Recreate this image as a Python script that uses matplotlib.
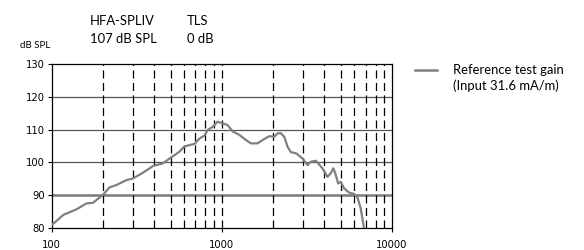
import numpy as np
import matplotlib
matplotlib.use("Agg")
import matplotlib.pyplot as plt

plt.rcParams['lines.scale_dashes'] = False

# Data: reference test gain curve (frequency Hz, dB SPL)
freq = [100, 107, 117, 140, 160, 175, 200, 219, 240, 275, 300, 345, 394, 450,
        493, 530, 564, 600, 646, 690, 740, 790, 827, 886, 944, 1010, 1081,
        1159, 1267, 1386, 1484, 1619, 1735, 1900, 2033, 2134, 2225, 2326,
        2433, 2547, 2725, 2978, 3186, 3336, 3568, 3901, 4173, 4368, 4524,
        4674, 4822, 5000, 5228, 5592, 5981, 6255, 6546, 6845]
gain = [80.9, 82.2, 84.0, 85.7, 87.5, 87.7, 90.1, 92.4, 93.1, 94.6, 95.1, 96.9,
        98.9, 99.7, 101.2, 102.3, 103.3, 104.8, 105.3, 105.6, 107.3, 108.2,
        109.9, 110.9, 112.4, 111.9, 111.4, 109.4, 108.4, 106.8, 105.8, 105.8,
        106.8, 108.0, 107.8, 108.9, 108.9, 107.8, 104.8, 103.1, 102.8, 101.2,
        99.2, 100.2, 100.5, 98.2, 95.6, 96.7, 98.2, 96.2, 93.6, 94.1, 92.1,
        90.8, 90.4, 89.4, 86.0, 80.0]

y_ticks = [80, 90, 100, 110, 120, 130]
x_ticks = [100, 1000, 10000]
x_ticklabels = ["100", "1000", "10000"]
dashed_freqs = [200, 300, 400, 500, 600, 700, 800, 900,
                1000, 2000, 3000, 4000, 5000, 6000, 7000, 8000, 9000]

W, H = 584, 250
fig = plt.figure(figsize=(W / 100, H / 100), dpi=100)
ax = fig.add_axes([51.7 / W, 1 - 228 / H, (392 - 51.7) / W, (228 - 64) / H])
ax.set_xscale('log')
ax.set_xlim(100, 10000)
ax.set_ylim(80, 130)

# horizontal grid lines
for yv in [100, 110, 120]:
    ax.axhline(yv, color='#555555', lw=0.9, zorder=1)
ax.axhline(90, color='#7a7a7a', lw=1.8, zorder=1)

# vertical dashed lines
for fv in dashed_freqs:
    ax.axvline(fv, color='black', lw=0.9, ls=(0, (5.8, 3.2)), zorder=1)

ax.plot(freq, gain, color='#808080', lw=1.6, zorder=3, solid_capstyle='butt')

for s in ['top', 'right', 'left', 'bottom']:
    ax.spines[s].set_color('black')
    ax.spines[s].set_linewidth(0.9)

ax.set_yticks(y_ticks)
ax.set_yticklabels([str(v) for v in y_ticks])
ax.set_xticks(x_ticks)
ax.set_xticklabels(x_ticklabels)
ax.xaxis.set_minor_locator(matplotlib.ticker.NullLocator())
ax.tick_params(axis='both', which='major', direction='out', length=3, width=0.8,
               labelsize=7.2, colors='black', pad=2)
ax.tick_params(axis='x', pad=6)

tfont = dict(family=['Lato', 'DejaVu Sans'], color='black')
def ftxt(x, y, s, size, **kw):
    fig.text(x / W, 1 - y / H, s, fontsize=size, va='baseline', ha='left', **tfont, **kw)

ftxt(90, 25, "HFA-SPLIV", 9.4)
ftxt(90, 43, "107 dB SPL", 9.4)
ftxt(187, 25, "TLS", 9.4)
ftxt(187, 43, "0 dB", 9.4)
ftxt(20, 48, "dB SPL", 7)

# legend
fig.add_artist(plt.Line2D([415 / W, 437 / W], [1 - 70 / H, 1 - 70 / H],
                          color='#808080', lw=1.8, transform=fig.transFigure))
ftxt(453, 74, "Reference test gain", 9.4)
ftxt(453, 90, "(Input 31.6 mA/m)", 9.4)

fig.savefig("out.png", dpi=100)
